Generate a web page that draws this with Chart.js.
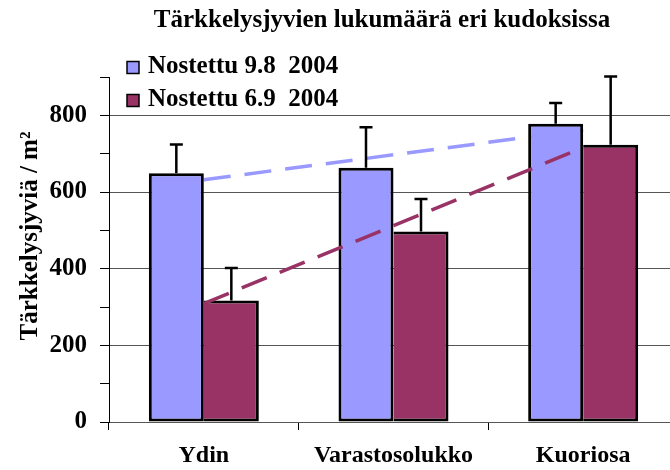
<!DOCTYPE html>
<html>
<head>
<meta charset="utf-8">
<script src="https://cdn.jsdelivr.net/npm/chart.js@4/dist/chart.umd.min.js"></script>
<style>
  html, body { margin: 0; padding: 0; overflow: hidden; background: #fff; }
  #wrap { position: absolute; left: 0; top: 0; width: 690px; height: 470px; }
</style>
</head>
<body>
<div id="wrap"><canvas id="c" width="690" height="470"></canvas></div>
<script>
// ---- data ----
const chartTitle = 'Tärkkelysjyvien lukumäärä eri kudoksissa';
const yAxisTitle = 'Tärkkelysjyviä / m²';
const categories = ['Ydin', 'Varastosolukko', 'Kuoriosa'];
const seriesNames = ['Nostettu 9.8  2004', 'Nostettu 6.9  2004'];
const augValues = [649, 663, 778];
const sepValues = [317, 497, 723];
const augErrors = [75, 106, 54];
const sepErrors = [85, 85, 178];
const augTrend = [632, 697, 762];
const sepTrend = [309, 512, 716];
const yLabelValues = [0, 200, 400, 600, 800];
const yMax = 900;
const yStep = 100;

const BLUE = '#9999FF';
const PURPLE = '#993366';
const FONT = "'Liberation Serif', 'Times New Roman', serif";

const errorBars = {
  id: 'errorBars',
  afterDatasetsDraw(chart) {
    const ctx = chart.ctx;
    const ys = chart.scales.y;
    const sets = [[0, augErrors], [1, sepErrors]];
    ctx.save();
    ctx.strokeStyle = '#000';
    ctx.lineWidth = 2.5;
    sets.forEach(([di, errs]) => {
      const meta = chart.getDatasetMeta(di);
      const vals = chart.data.datasets[di].data;
      meta.data.forEach((bar, i) => {
        const top = ys.getPixelForValue(vals[i] + errs[i]);
        ctx.beginPath();
        ctx.moveTo(bar.x, bar.y);
        ctx.lineTo(bar.x, top);
        ctx.moveTo(bar.x - 6.5, top);
        ctx.lineTo(bar.x + 6.5, top);
        ctx.stroke();
      });
    });
    ctx.restore();
  }
};

const texts = {
  id: 'texts',
  afterDraw(chart) {
    const ctx = chart.ctx;
    ctx.save();
    ctx.fillStyle = '#000';
    // chart title
    ctx.font = 'bold 25px ' + FONT;
    ctx.textAlign = 'center';
    ctx.textBaseline = 'alphabetic';
    ctx.fillText(chartTitle, 382, 27);
    // y axis title
    ctx.save();
    ctx.translate(37, 236);
    ctx.rotate(-Math.PI / 2);
    ctx.fillText(yAxisTitle, 0, 0);
    ctx.restore();
    // legend
    const colors = [BLUE, PURPLE];
    const rowsY = [73, 106];
    ctx.textAlign = 'left';
    seriesNames.forEach((name, i) => {
      ctx.fillStyle = colors[i];
      ctx.fillRect(127, rowsY[i] - 11.5, 12, 12);
      ctx.strokeStyle = '#000';
      ctx.lineWidth = 1.5;
      ctx.strokeRect(127, rowsY[i] - 11.5, 12, 12);
      ctx.fillStyle = '#000';
      ctx.fillText(name, 148, rowsY[i]);
    });
    ctx.restore();
  }
};

new Chart(document.getElementById('c'), {
  type: 'bar',
  data: {
    labels: categories,
    datasets: [
      { label: seriesNames[0], data: augValues, backgroundColor: BLUE, borderColor: '#000',
        borderWidth: 3, borderSkipped: false, order: 0 },
      { label: seriesNames[1], data: sepValues, backgroundColor: PURPLE, borderColor: '#000',
        borderWidth: { top: 3, right: 3, bottom: 3, left: 0 }, borderSkipped: false, order: 0 },
      { type: 'line', label: 'trend1', data: augTrend, borderColor: BLUE, borderWidth: 3.5,
        borderDash: [27, 14], pointRadius: 0, fill: false, tension: 0, order: 1 },
      { type: 'line', label: 'trend2', data: sepTrend, borderColor: PURPLE, borderWidth: 3.5,
        borderDash: [27, 14], pointRadius: 0, fill: false, tension: 0, order: -1 }
    ]
  },
  options: {
    responsive: false,
    animation: false,
    devicePixelRatio: 1,
    layout: { padding: { top: 77, right: 12, bottom: 0, left: 0 } },
    datasets: { bar: { categoryPercentage: 0.58, barPercentage: 1.0 } },
    plugins: { legend: { display: false }, title: { display: false }, tooltip: { enabled: false } },
    scales: {
      x: {
        afterFit(s) { s.height = 48; },
        grid: { display: true, drawOnChartArea: false, drawTicks: true, tickLength: 8,
                color: '#000', tickColor: '#000', offset: true },
        border: { display: true, color: '#555', width: 1 },
        ticks: { color: '#000', padding: 11, font: { family: FONT, size: 24, weight: 'bold' } }
      },
      y: {
        min: 0, max: yMax,
        afterFit(s) { s.width = 109; },
        grid: {
          drawTicks: true, tickLength: 9, tickColor: '#000',
          color: (c) => (c.tick && yLabelValues.includes(c.tick.value)) ? '#555' : 'rgba(0,0,0,0)'
        },
        border: { display: true, color: '#000', width: 1 },
        ticks: {
          stepSize: yStep, autoSkip: false, padding: 13, color: '#000',
          font: { family: FONT, size: 25, weight: 'bold' },
          callback: (v) => yLabelValues.includes(v) ? String(v) : ''
        }
      }
    }
  },
  plugins: [errorBars, texts]
});
</script>
</body>
</html>
